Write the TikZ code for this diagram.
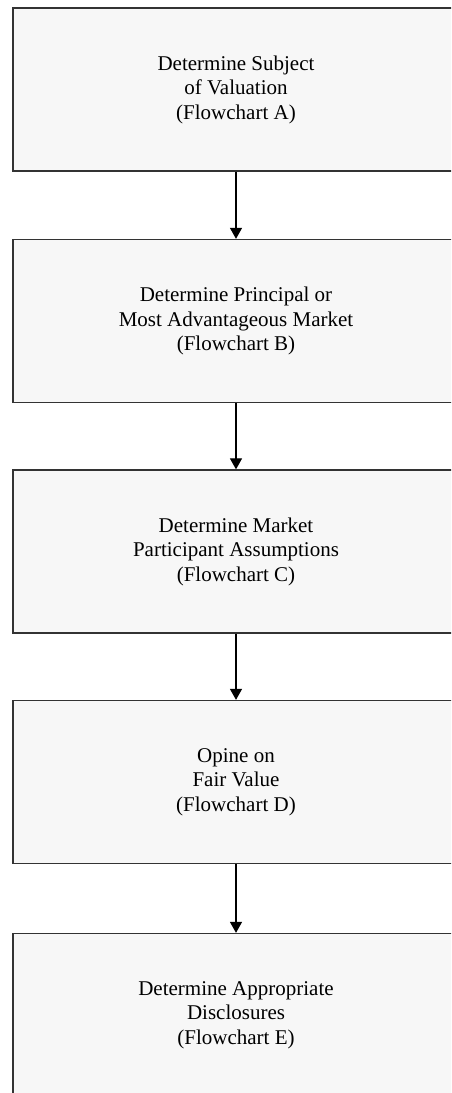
\documentclass[tikz,border=0pt]{standalone}
\usepackage{fontspec}
\setmainfont{Liberation Serif}
\usetikzlibrary{arrows.meta}
\definecolor{boxfill}{HTML}{F7F7F7}
\definecolor{boxline}{HTML}{333333}
\tikzset{
  stepbox/.style={draw=boxline, line width=1.3pt, fill=boxfill,
    minimum width=446pt, minimum height=163pt, inner sep=0pt,
    align=center, font=\fontsize{21}{24.5}\selectfont},
  flow/.style={draw=black, line width=1.2pt,
    -{Triangle[width=12pt,length=11pt]}}
}
\begin{document}
\begin{tikzpicture}[x=1pt,y=-1pt]
  \useasboundingbox (0,0) rectangle (451,1093);
  \fill[white] (0,0) rectangle (451,1093);
  \clip (0,0) rectangle (451,1093);
  \node[stepbox] (a) at (236,89.5)  {Determine Subject\\of Valuation\\(Flowchart A)};
  \node[stepbox] (b) at (236,321)   {Determine Principal or\\Most Advantageous Market\\(Flowchart B)};
  \node[stepbox] (c) at (236,551.5) {Determine Market\\Participant Assumptions\\(Flowchart C)};
  \node[stepbox] (d) at (236,782)   {Opine on\\Fair Value\\(Flowchart D)};
  \node[stepbox] (e) at (236,1015)  {Determine Appropriate\\Disclosures\\(Flowchart E)};
  \draw[flow] (a) -- (b);
  \draw[flow] (b) -- (c);
  \draw[flow] (c) -- (d);
  \draw[flow] (d) -- (e);
\end{tikzpicture}
\end{document}
